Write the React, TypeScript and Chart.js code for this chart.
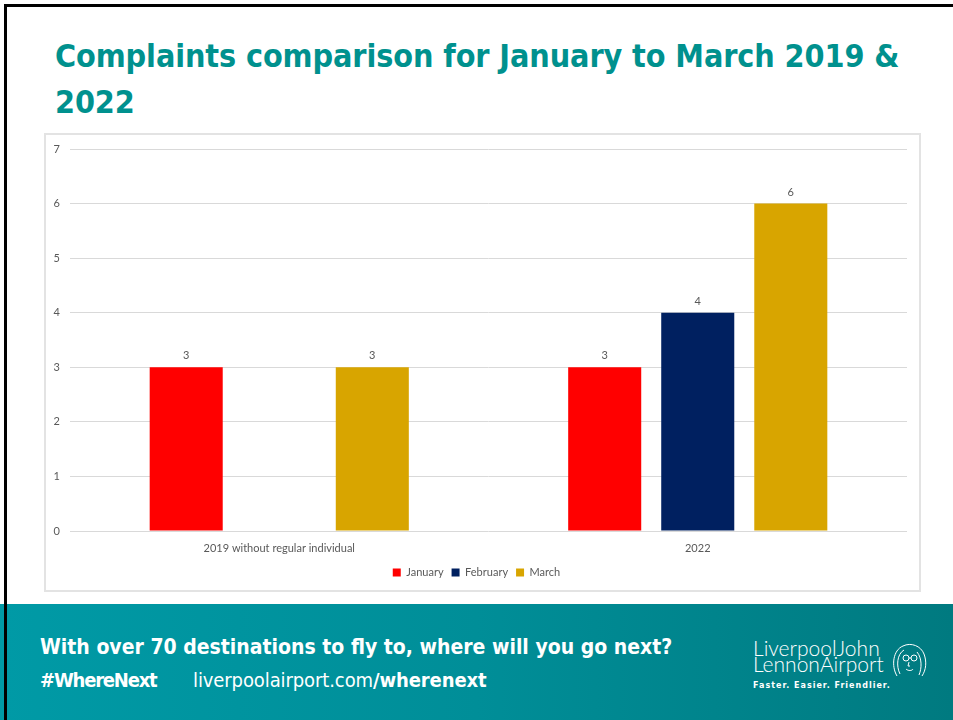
import React, { useEffect, useRef } from "react";
import { Chart, registerables } from "chart.js";

Chart.register(...registerables);

const categories = ["2019 without regular individual", "2022"];
const january = [3, 3];
const february: (number | null)[] = [null, 4];
const march = [3, 6];
const seriesNames = ["January", "February", "March"];
const yTicks = [0, 1, 2, 3, 4, 5, 6, 7];

const GREY = "#595959";
const FONT = "Lato, 'Open Sans', sans-serif";

const valueLabels = {
  id: "valueLabels",
  afterDatasetsDraw(chart: any) {
    const ctx = chart.ctx;
    ctx.save();
    ctx.font = `11px ${FONT}`;
    ctx.fillStyle = GREY;
    ctx.textAlign = "center";
    ctx.textBaseline = "bottom";
    chart.data.datasets.forEach((ds: any, i: number) => {
      const meta = chart.getDatasetMeta(i);
      meta.data.forEach((el: any, j: number) => {
        const v = ds.data[j];
        if (v === null || v === undefined) return;
        ctx.fillText(String(v), el.x, el.y - 6);
      });
    });
    ctx.restore();
  },
};

function BarChart() {
  const ref = useRef<HTMLCanvasElement | null>(null);
  useEffect(() => {
    if (!ref.current) return;
    const chart = new Chart(ref.current, {
      type: "bar",
      data: {
        labels: categories,
        datasets: [
          { label: seriesNames[0], data: january, backgroundColor: "#FF0000" },
          { label: seriesNames[1], data: february, backgroundColor: "#002060" },
          { label: seriesNames[2], data: march, backgroundColor: "#D8A500" },
        ],
      },
      options: {
        responsive: false,
        animation: false,
        devicePixelRatio: 1,
        layout: { padding: { left: 0, right: 12, top: 14, bottom: 2 } },
        datasets: {
          bar: { categoryPercentage: 0.667, barPercentage: 0.785 },
        },
        plugins: {
          title: { display: false },
          tooltip: { enabled: false },
          legend: {
            position: "bottom",
            labels: {
              font: { family: FONT, size: 11 },
              color: GREY,
              boxWidth: 8,
              boxHeight: 8,
              padding: 8,
            },
          },
        },
        scales: {
          x: {
            grid: { display: false },
            border: { display: false },
            ticks: { font: { family: FONT, size: 11 }, color: GREY, padding: 3 },
            afterFit(scale: any) {
              scale.height = 28;
            },
          },
          y: {
            min: 0,
            max: 7,
            afterBuildTicks(scale: any) {
              scale.ticks = yTicks.map((v) => ({ value: v }));
            },
            grid: { color: "#d9d9d9", drawTicks: false },
            border: { display: false },
            ticks: { font: { family: FONT, size: 11 }, color: GREY, padding: 10 },
            afterFit(scale: any) {
              scale.width = 24;
              scale.paddingTop = 0;
              scale.paddingBottom = 0;
            },
          },
        },
      },
      plugins: [valueLabels],
    });
    return () => chart.destroy();
  }, []);
  return (
    <canvas
      ref={ref}
      width={873}
      height={455}
      style={{ position: "absolute", left: 46, top: 135, width: 873, height: 455 }}
    />
  );
}

export default function App() {
  const titleFont = "'DejaVu Sans Condensed', 'DejaVu Sans', sans-serif";
  return (
    <div
      style={{
        position: "absolute",
        left: 0,
        top: 0,
        width: 953,
        height: 720,
        background: "#fff",
        overflow: "hidden",
      }}
    >
      <div
        style={{
          position: "absolute",
          left: 55,
          top: 33,
          fontFamily: titleFont,
          fontWeight: 700,
          fontSize: 32,
          lineHeight: "46px",
          color: "#00918E",
          whiteSpace: "nowrap",
          letterSpacing: -0.1,
        }}
      >
        Complaints comparison for January to March 2019 &amp;
        <br />
        2022
      </div>
      <div
        style={{
          position: "absolute",
          left: 44,
          top: 133,
          width: 877,
          height: 459,
          boxSizing: "border-box",
          border: "2px solid #e3e3e3",
        }}
      />
      <BarChart />
      <div
        style={{
          position: "absolute",
          left: 0,
          top: 604,
          width: 953,
          height: 116,
          background: "linear-gradient(90deg, #009aa6 0%, #008e98 50%, #007a80 100%)",
          color: "#fff",
        }}
      >
        <div
          style={{
            position: "absolute",
            left: 40,
            top: 31,
            fontFamily: titleFont,
            fontWeight: 700,
            fontSize: 21,
            whiteSpace: "nowrap",
            letterSpacing: 0,
          }}
        >
          With over 70 destinations to fly to, where will you go next?
        </div>
        <div
          style={{
            position: "absolute",
            left: 40,
            top: 64,
            fontFamily: titleFont,
            fontWeight: 700,
            fontSize: 20,
            whiteSpace: "nowrap",
            letterSpacing: -1.2,
          }}
        >
          #WhereNext
        </div>
        <div
          style={{
            position: "absolute",
            left: 193,
            top: 64,
            fontFamily: titleFont,
            fontSize: 20,
            whiteSpace: "nowrap",
            letterSpacing: -0.1,
          }}
        >
          liverpoolairport.com<b>/wherenext</b>
        </div>
        <div
          style={{
            position: "absolute",
            left: 753,
            top: 36,
            fontFamily: "Lato, sans-serif",
            fontWeight: 300,
            fontSize: 21,
            lineHeight: "16px",
            whiteSpace: "nowrap",
          }}
        >
          LiverpoolJohn
          <br />
          LennonAirport
        </div>
        <div
          style={{
            position: "absolute",
            left: 753,
            top: 77,
            fontFamily: "'DejaVu Sans', sans-serif",
            fontWeight: 700,
            fontSize: 8,
            letterSpacing: 1,
            whiteSpace: "nowrap",
          }}
        >
          Faster. Easier. Friendlier.
        </div>
        <svg
          width={40}
          height={36}
          style={{ position: "absolute", left: 889, top: 38 }}
          viewBox="0 0 40 36"
          fill="none"
          stroke="#fff"
          strokeWidth={1}
        >
          <path d="M8 34 C2 24 4 8 14 4 C22 0 32 4 35 12 C38 20 37 28 33 34" />
          <path d="M11 32 C7 24 8 12 15 8 M30 33 C33 26 33 16 28 10" />
          <circle cx={17} cy={16} r={3} />
          <circle cx={25} cy={16} r={3} />
          <path d="M20 16 L22 16 M20 20 L19 24 L21 24 M17 27 C19 29 23 29 24 27" />
        </svg>
      </div>
      <div
        style={{
          position: "absolute",
          left: 4,
          top: 4,
          width: 949,
          height: 716,
          boxSizing: "border-box",
          borderTop: "3px solid #000",
          borderLeft: "3px solid #000",
          pointerEvents: "none",
        }}
      />
    </div>
  );
}
